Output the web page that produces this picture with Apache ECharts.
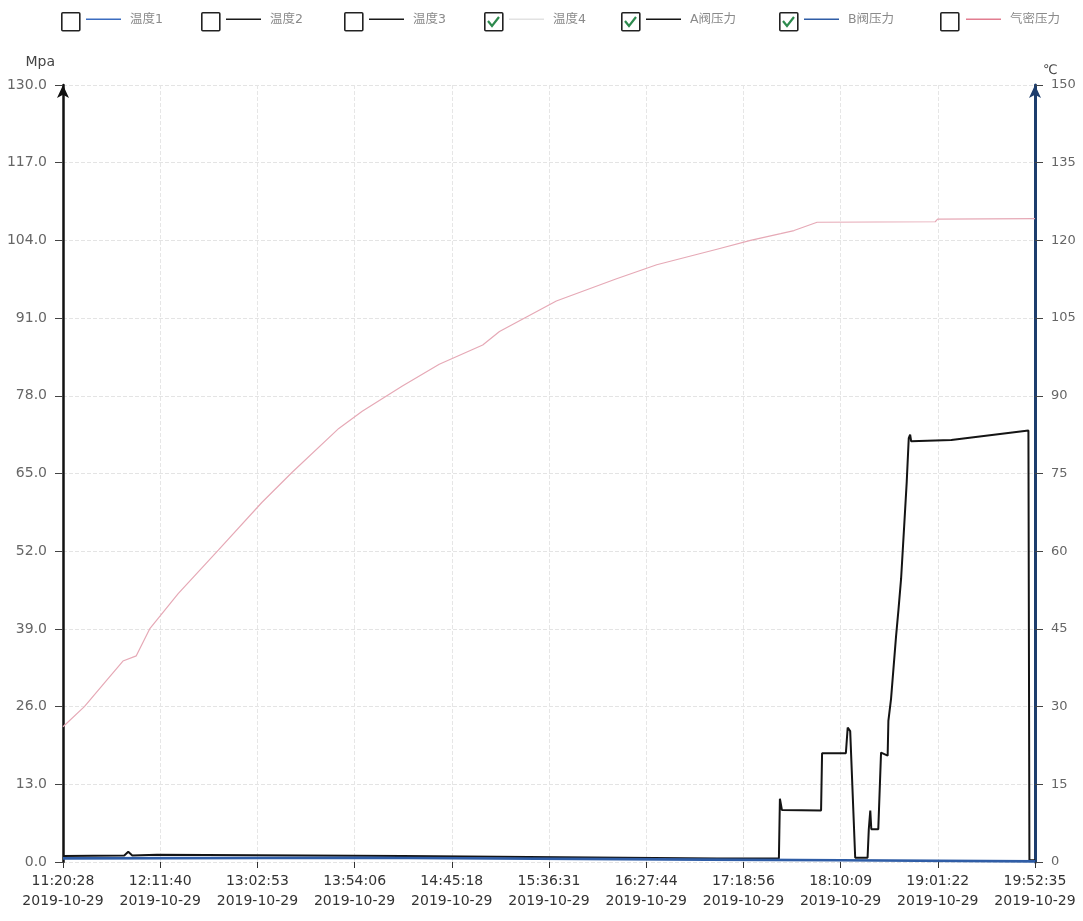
<!DOCTYPE html>
<html>
<head>
<meta charset="utf-8">
<script src="https://cdn.jsdelivr.net/npm/echarts@6/dist/echarts.min.js"></script>
<style>
html,body{margin:0;padding:0;background:#fff;}
#chart{width:1083px;height:921px;}
</style>
</head>
<body>
<div id="chart"></div>
<script>
// ---- data ----
const startClock = '11:20:28';
const tickDate = '2019-10-29';
const xTickLabels = ['11:20:28','12:11:40','13:02:53','13:54:06','14:45:18','15:36:31','16:27:44','17:18:56','18:10:09','19:01:22','19:52:35'];
const legendNames = ['温度1','温度2','温度3','温度4','A阀压力','B阀压力','气密压力'];
const legendChecked = [false,false,false,true,true,true,false];

const temp4Times = ['11:20:28','11:31:44','11:42:19','11:52:03','11:59:05','12:06:07','12:21:09','12:42:18','13:05:13','13:21:05','13:45:47','13:58:07','14:19:17','14:38:42','15:01:36','15:10:26','15:40:23','16:12:07','16:33:17','17:05:01','17:22:41','17:38:34','17:45:36','17:57:47','19:00:01','19:01:16','19:52:35'];
const temp4Values = [26.1,30.0,34.6,38.8,39.8,45.0,51.8,60.2,69.4,75.2,83.7,87.0,91.9,96.1,99.8,102.4,108.3,112.6,115.3,118.3,120.0,121.3,121.9,123.5,123.6,124.1,124.2];

const aTimes = ['11:20:28','11:52:45','11:54:51','11:56:58','12:10:00','14:19:17','17:05:00','17:37:39','17:38:11','17:39:14','17:59:52','18:00:24','18:12:56','18:13:54','18:15:13','18:17:51','18:24:22','18:25:01','18:25:48','18:26:20','18:30:01','18:31:28','18:34:57','18:35:20','18:36:44','18:39:23','18:40:37','18:42:02','18:43:47','18:45:00','18:46:04','18:46:48','18:47:20','19:08:29','19:49:07','19:49:39','19:52:35'];
const aValues = [1.0,1.1,1.7,1.1,1.2,1.0,0.6,0.6,10.6,8.7,8.6,18.2,18.2,22.5,21.9,0.7,0.7,5.5,8.6,5.5,5.5,18.3,17.8,23.6,27.3,37.8,42.1,47.4,56.9,63.6,70.9,71.5,70.4,70.6,72.2,0.3,0.3];

const bTimes = ['11:20:28','14:00:00','17:00:00','18:10:00','19:52:35'];
const bValues = [0.6,0.7,0.4,0.3,0.1];

// ---- helpers ----
function secs(c){const p=c.split(':').map(Number);return p[0]*3600+p[1]*60+p[2];}
const t0 = secs(startClock);
const tEnd = secs(xTickLabels[xTickLabels.length-1]) - t0;
const step = tEnd / (xTickLabels.length - 1);
function pairs(times, vals){return times.map((t,i)=>[secs(t)-t0, vals[i]]);}

const colors = {'温度1':'#3b6cc0','温度2':'#1a1a1a','温度3':'#1a1a1a','温度4':'#e6a9b6','A阀压力':'#141414','B阀压力':'#2f5da6','气密压力':'#e27d90'};
const legendLineColors = {'温度4':'#e2e2e2'};

const font = "'DejaVu Sans', 'Noto Sans CJK SC', sans-serif";

// legend layout (positions only)
const boxX = [61,201,344,484,621,779,940];
const lineX = [86,226,369,509,646,804,966];

const legends = legendNames.map((n,i)=>({
  left: lineX[i], top: 13, padding: 0,
  selectedMode: false,
  icon: 'rect', itemWidth: 35, itemHeight: 1.5,
  data: [{name:n, itemStyle:{color: legendLineColors[n] || colors[n]}}],
  textStyle: {color:'#8a8a8a', fontSize: 12.5, fontFamily: font, padding:[0,0,0,4]}
}));

const graphics = [];
legendNames.forEach((n,i)=>{
  graphics.push({type:'rect', left: boxX[i], top: 12, shape:{width:18,height:18,r:1},
    style:{fill:'#fff', stroke:'#222', lineWidth:1.6}});
  if (legendChecked[i]) {
    graphics.push({type:'polyline', shape:{points:[[boxX[i]+4,21],[boxX[i]+8,26],[boxX[i]+15,17]]},
      style:{stroke:'#2d8a4e', lineWidth:2.2, fill:null}});
  }
});

function mk(name, data, yi, width){
  return {name, type:'line', yAxisIndex: yi, data, showSymbol:false, symbol:'none',
    color: colors[name], lineStyle:{color: colors[name], width: width}, animation:false};
}

const series = [
  mk('温度1', [], 1, 1.5),
  mk('温度2', [], 1, 1.5),
  mk('温度3', [], 1, 1.5),
  mk('温度4', pairs(temp4Times, temp4Values), 1, 1.2),
  mk('A阀压力', pairs(aTimes, aValues), 0, 2),
  mk('B阀压力', pairs(bTimes, bValues), 0, 2.6),
  mk('气密压力', [], 0, 1.5)
];

const chart = echarts.init(document.getElementById('chart'));
chart.setOption({
  animation: false,
  backgroundColor: '#fff',
  legend: legends,
  graphic: graphics,
  grid: {left: 63, right: 48, top: 85, bottom: 59, containLabel: false},
  xAxis: {
    type:'value', min: 0, max: tEnd, interval: step,
    axisLine:{show:false},
    axisTick:{show:true, length:6, lineStyle:{color:'#333'}},
    axisLabel:{color:'#333', fontSize:14, fontFamily:font, lineHeight:20, margin:9,
      formatter:(v)=>{const i=Math.round(v/step);return (xTickLabels[i]||'')+'\n'+tickDate;}},
    splitLine:{show:true, lineStyle:{color:'#e6e6e6', type:'dashed'}}
  },
  yAxis: [
    {type:'value', min:0, max:130, interval:13, position:'left',
      name:'Mpa', nameLocation:'end', nameGap:16,
      nameTextStyle:{color:'#444', fontSize:14, fontFamily:font, align:'right', padding:[0,8,0,0]},
      axisLine:{show:true, symbol:['none','arrow'], symbolSize:[9,13], lineStyle:{color:'#111', width:2.5}},
      axisTick:{show:true, length:8, lineStyle:{color:'#444'}},
      axisLabel:{color:'#666', fontSize:14, fontFamily:font, margin:16, formatter:(v)=>v.toFixed(1)},
      splitLine:{show:true, lineStyle:{color:'#e4e4e4', type:'dashed'}}
    },
    {type:'value', min:0, max:150, interval:15, position:'right',
      name:'℃', nameLocation:'end', nameGap:8,
      nameTextStyle:{color:'#444', fontSize:13, fontFamily:font, align:'left', padding:[0,0,0,8]},
      axisLine:{show:true, symbol:['none','arrow'], symbolSize:[9,13], lineStyle:{color:'#1d3d6d', width:3}},
      axisTick:{show:true, length:8, lineStyle:{color:'#444'}},
      axisLabel:{color:'#666', fontSize:13, fontFamily:font, margin:16},
      splitLine:{show:false}
    }
  ],
  series
});
</script>
</body>
</html>
